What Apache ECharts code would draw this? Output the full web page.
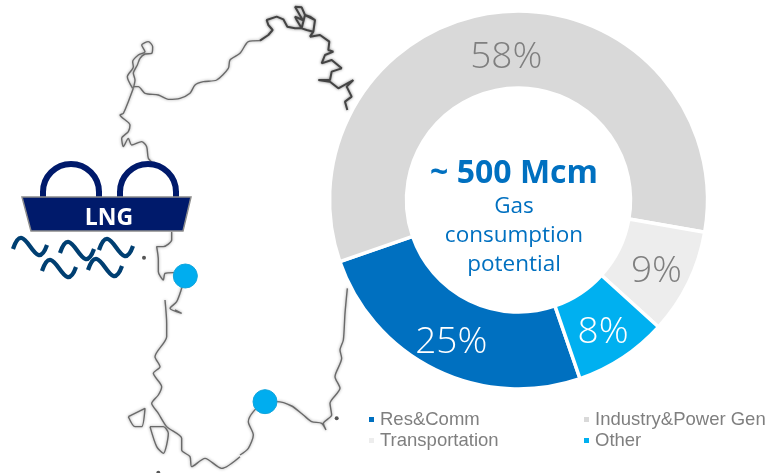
<!DOCTYPE html>
<html><head><meta charset="utf-8">
<style>html,body{margin:0;padding:0;background:#fff}#c{width:765px;height:473px}</style>
<script src="https://cdn.jsdelivr.net/npm/echarts@6/dist/echarts.min.js"></script>
</head><body><div id="c"></div>
<script>
const sectors = ['Res&Comm','Industry&Power Gen','Transportation','Other'];
const shares = [25,58,9,8];
const sectorColors = ['#0070c0','#d9d9d9','#ededed','#00b0f0'];
const labelColors = ['#ffffff','#7f7f7f','#7f7f7f','#ffffff'];
const terminals = [[556,828],[795,1205]];
const shift = (pts,dx,dy)=>pts.map(p=>[p[0]+dx,p[1]+dy]);
const coastAsinara = shift([[38,175],[22,140],[40,110],[38,95],[55,75],[75,65],[65,45],[85,35],[98,50],[95,70],[75,72],[60,85],[52,105],[40,130],[45,150],[40,175]],360,90);
const coastNorth = shift([[40,170],[55,170],[75,190],[115,195],[145,208],[180,205],[210,190],[225,165],[250,155],[290,150],[325,115],[330,90],[360,70],[385,35],[420,32]],360,90);
const coastNorthEast = shift([[0,122],[25,105],[38,90],[25,75],[20,60],[50,50],[70,58],[82,80],[105,85],[125,85],[110,60],[105,50],[128,60],[105,20],[125,22],[135,45],[125,85],[140,90],[160,95],[165,60],[150,50],[135,45],[165,60],[160,95],[150,110],[180,105],[208,125],[205,150],[220,155],[195,165],[185,190],[215,180],[245,205],[215,215],[210,240],[175,240],[210,245],[235,265],[280,240],[260,260],[275,290],[255,305],[262,330]],780,0);
const coastWest = shift([[40,175],[25,215],[10,250],[0,255],[30,285],[25,305],[5,325],[10,350],[25,325],[35,345],[65,335],[80,350],[85,385],[100,400]],360,90);
const coastWestMid = shift([[155,5],[155,30],[130,50],[110,50],[115,90],[115,125],[130,150],[135,130],[160,128],[196,138],[185,175],[170,215],[150,235],[185,250],[165,240]],360,690);
const coastSouthWest = shift([[135,210],[140,280],[140,320],[105,380],[120,410],[100,430],[125,470],[115,495],[95,520],[115,550],[140,590],[185,625],[185,660],[210,680],[215,710],[255,685],[305,715],[360,680]],360,690);
const coastSouthEast = shift([[322,25],[315,100],[310,180],[300,210],[305,235],[285,290],[300,325],[270,370],[275,405],[250,430],[258,450],[245,430],[215,425],[190,405],[155,378],[110,365],[75,365],[40,395],[25,425],[40,465],[25,505],[0,525]],720,840);
const islandSanPietro = shift([[25,560],[75,535],[65,590],[45,590],[25,560]],360,690);
const islandAntioco = shift([[90,590],[130,590],[145,610],[130,670],[110,650],[90,590]],360,690);
const islets = [[432,773],[1010,1255],[475,1418]];
const coastLines = [coastAsinara,coastNorth,coastWest,coastWestMid,coastSouthWest,coastSouthEast,islandSanPietro,islandAntioco];

const wave = (x,y)=>({type:'bezierCurve',z:20,shape:{x1:x,y1:y,cpx1:x+12,cpy1:y-36,cpx2:x+22,cpy2:y+30,x2:x+34,y2:y-4},style:{fill:null,stroke:'#003f72',lineWidth:4.2}});
const dome = (cx)=>({type:'arc',z:18,shape:{cx:cx,cy:192,r:28,startAngle:Math.PI,endAngle:0,clockwise:true},style:{fill:null,stroke:'#001a6b',lineWidth:6}});
const stem = (x)=>({type:'rect',z:18,shape:{x:x-3,y:191,width:6,height:7},style:{fill:'#001a6b'}});
const txt = (t,y,size,weight)=>({type:'text',z:30,x:514,y:y,style:{text:t,fill:'#0070c0',font:weight+' '+size+'px "Open Sans"',textAlign:'center',textVerticalAlign:'middle'}});

const chart = echarts.init(document.getElementById('c'));
const legendCell = (name,left,top)=>({data:[name],left:left,top:top,itemWidth:7,itemHeight:7,itemGap:3,icon:'rect',selectedMode:false,padding:0,textStyle:{color:'#7f7f7f',fontFamily:'Liberation Sans',fontSize:18.5}});
const coastStyle = {color:'#6a6a6a',width:1.4,shadowBlur:3,shadowColor:'#999'};
chart.setOption({
  animation:false,
  grid:{left:0,right:0,top:0,bottom:0},
  xAxis:{type:'value',min:0,max:2295,show:false},
  yAxis:{type:'value',min:0,max:1419,inverse:true,show:false},
  legend:[legendCell(sectors[0],367,410),legendCell(sectors[1],582,410),legendCell(sectors[2],367,431),legendCell(sectors[3],582,431)],
  series:[
    ...coastLines.map(d=>({type:'line',data:d,symbol:'none',silent:true,z:1,smooth:0.25,lineStyle:coastStyle})),
    {type:'line',data:coastNorthEast,symbol:'none',silent:true,z:1,lineStyle:{color:'#444',width:2,shadowBlur:3,shadowColor:'#777'}},
    {type:'scatter',data:islets,symbolSize:4,silent:true,z:1,itemStyle:{color:'#555',opacity:1}},
    {type:'scatter',data:terminals,symbolSize:24,silent:true,z:3,itemStyle:{color:'#00adef',borderColor:'#12a5dc',borderWidth:1,opacity:1}},
    {type:'pie',center:[518.5,200],radius:[112,189],startAngle:-71,clockwise:true,silent:true,z:5,
     data:sectors.map((n,i)=>({name:n,value:shares[i],itemStyle:{color:sectorColors[i]},label:{color:labelColors[i],offset:[0,i===1?10:4]}})),
     itemStyle:{borderColor:'#fff',borderWidth:3.5},
     label:{show:true,position:'inside',formatter:'{c}%',fontFamily:'Open Sans',fontWeight:300,fontSize:37},
     labelLine:{show:false}}
  ],
  graphic:[
    dome(71),dome(148),stem(43),stem(99),stem(120),stem(176),
    {type:'polygon',z:19,shape:{points:[[22,197],[191,197],[183,231],[31,231]]},style:{fill:'#001a6b',stroke:'#8c8c8c',lineWidth:1.5}},
    {type:'text',z:21,x:109,y:218,style:{text:'LNG',fill:'#fff',font:'bold 23px "Open Sans"',textAlign:'center',textVerticalAlign:'middle'}},
    wave(13,249),wave(42,271),wave(60,253),wave(99,250),wave(88,270),
    txt('~ 500 Mcm',173.5,32,'bold'),txt('Gas',206.5,22.5,'normal'),txt('consumption',235.5,22.5,'normal'),txt('potential',264.5,22.5,'normal')
  ]
});
</script></body></html>
